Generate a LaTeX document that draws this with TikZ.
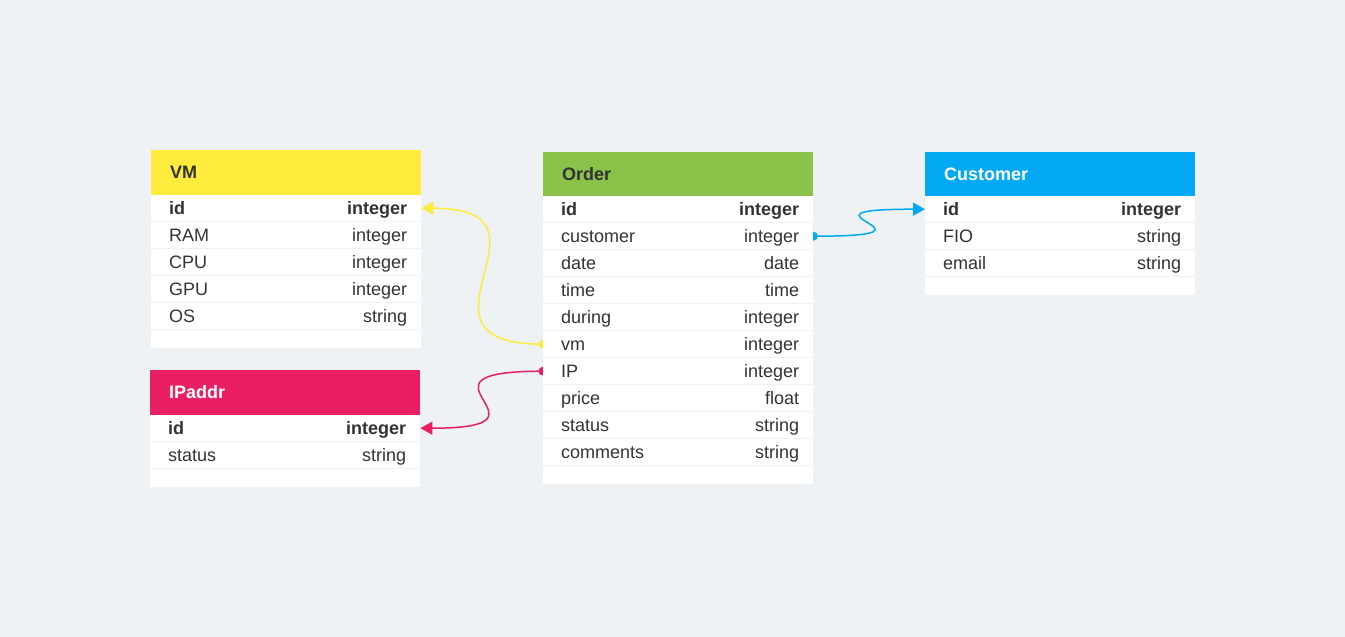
\documentclass[tikz,border=0pt]{standalone}
\usepackage{fontspec}
\setmainfont{Liberation Sans}
\usepackage{tikz}
\usetikzlibrary{positioning, arrows.meta}
\definecolor{canvas}{HTML}{EEF2F5}
\definecolor{ink}{HTML}{333333}
\definecolor{vmyellow}{HTML}{FFEB3B}
\definecolor{ordergreen}{HTML}{8BC34A}
\definecolor{custblue}{HTML}{03A9F4}
\definecolor{ippink}{HTML}{E91E63}
\pgfdeclarelayer{back}
\pgfsetlayers{back,main}

\begin{document}
\begin{tikzpicture}[x=1pt, y=-1pt, text=ink,
  font=\fontsize{18pt}{21pt}\selectfont,
  tblhead/.style={anchor=north west, minimum width=270pt, minimum height=45pt,
    inner xsep=19pt, inner ysep=0pt, text width=232pt, align=left,
    text height=13pt, text depth=1pt, font=\fontsize{18pt}{21pt}\selectfont\bfseries},
  fieldrow/.style={anchor=north west, fill=white, minimum width=270pt, minimum height=26pt,
    inner xsep=18pt, inner ysep=0pt, text width=234pt, align=left,
    text height=13pt, text depth=1pt},
  tailrow/.style={anchor=north west, fill=white, minimum width=270pt, minimum height=18pt, inner sep=0pt},
  ftype/.style={anchor=base east, inner sep=0pt, xshift=-14pt},
  rel/.style={line width=1.5pt, -{Triangle[length=12pt,width=13pt]}},
]
% VM
\node[tblhead, fill=vmyellow] (vm) at (151,150) {VM};
\node[fieldrow] (vm-id) at (151,195) {\bfseries id};
\node[ftype] at (vm-id.base east) {\bfseries integer};
\node[fieldrow] (vm-ram) at (151,222) {RAM};
\node[ftype] at (vm-ram.base east) {integer};
\node[fieldrow] (vm-cpu) at (151,249) {CPU};
\node[ftype] at (vm-cpu.base east) {integer};
\node[fieldrow] (vm-gpu) at (151,276) {GPU};
\node[ftype] at (vm-gpu.base east) {integer};
\node[fieldrow] (vm-os) at (151,303) {OS};
\node[ftype] at (vm-os.base east) {string};
\node[tailrow] (vm-end) at (151,330) {};

% IPaddr
\node[tblhead, fill=ippink, text=white] (ip) at (150,370) {IPaddr};
\node[fieldrow] (ip-id) at (150,415) {\bfseries id};
\node[ftype] at (ip-id.base east) {\bfseries integer};
\node[fieldrow] (ip-status) at (150,442) {status};
\node[ftype] at (ip-status.base east) {string};
\node[tailrow] (ip-end) at (150,469) {};

% Order
\node[tblhead, fill=ordergreen] (order) at (543,152) {Order};
\node[fieldrow] (order-id) at (543,196) {\bfseries id};
\node[ftype] at (order-id.base east) {\bfseries integer};
\node[fieldrow] (order-customer) at (543,223) {customer};
\node[ftype] at (order-customer.base east) {integer};
\node[fieldrow] (order-date) at (543,250) {date};
\node[ftype] at (order-date.base east) {date};
\node[fieldrow] (order-time) at (543,277) {time};
\node[ftype] at (order-time.base east) {time};
\node[fieldrow] (order-during) at (543,304) {during};
\node[ftype] at (order-during.base east) {integer};
\node[fieldrow] (order-vm) at (543,331) {vm};
\node[ftype] at (order-vm.base east) {integer};
\node[fieldrow] (order-ip) at (543,358) {IP};
\node[ftype] at (order-ip.base east) {integer};
\node[fieldrow] (order-price) at (543,385) {price};
\node[ftype] at (order-price.base east) {float};
\node[fieldrow] (order-status) at (543,412) {status};
\node[ftype] at (order-status.base east) {string};
\node[fieldrow] (order-comments) at (543,439) {comments};
\node[ftype] at (order-comments.base east) {string};
\node[tailrow] (order-end) at (543,466) {};

% Customer
\node[tblhead, fill=custblue, text=white] (cust) at (925,152) {Customer};
\node[fieldrow] (cust-id) at (925,196) {\bfseries id};
\node[ftype] at (cust-id.base east) {\bfseries integer};
\node[fieldrow] (cust-fio) at (925,223) {FIO};
\node[ftype] at (cust-fio.base east) {string};
\node[fieldrow] (cust-email) at (925,250) {email};
\node[ftype] at (cust-email.base east) {string};
\node[tailrow] (cust-end) at (925,277) {};

% relations, under the tables
\begin{pgfonlayer}{back}
\fill[canvas] (0,0) rectangle (1345,637);
\draw[rel, vmyellow] (order-vm.west) .. controls +(-150,0) and +(150,0) .. (vm-id.east);
\fill[vmyellow] (order-vm.west) circle (4.5pt);
\draw[rel, ippink] (order-ip.west) .. controls +(-150,0) and +(150,0) .. (ip-id.east);
\fill[ippink] (order-ip.west) circle (4.5pt);
\draw[rel, custblue] (order-customer.east) .. controls +(150,0) and +(-150,0) .. (cust-id.west);
\fill[custblue] (order-customer.east) circle (4.5pt);
\end{pgfonlayer}
\end{tikzpicture}
\end{document}
